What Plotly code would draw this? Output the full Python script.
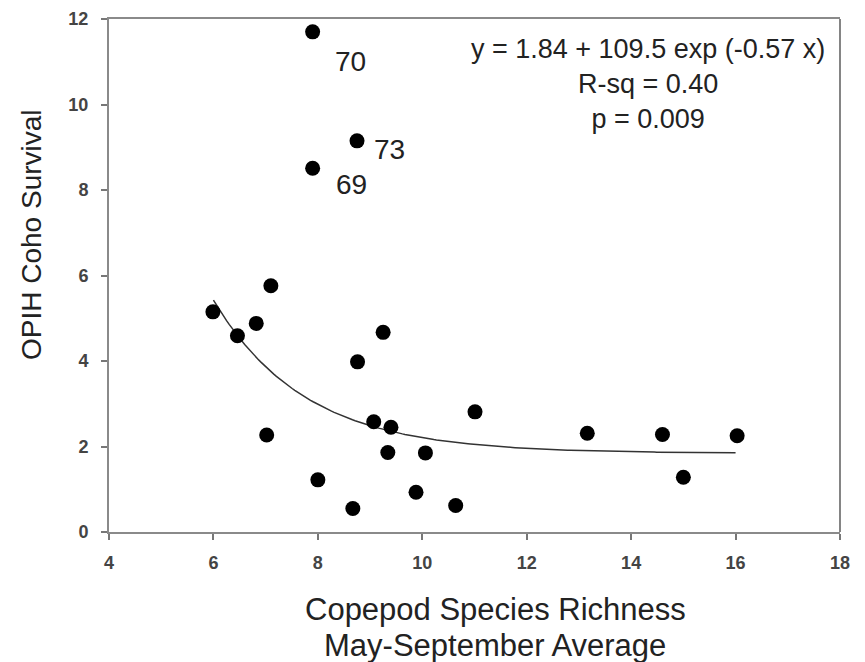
import numpy as np
import plotly.graph_objects as go

# Data
richness = [7.90, 8.75, 7.90, 7.10, 5.99, 6.46, 6.82, 8.76, 7.02, 8.00, 8.67,
            9.25, 9.07, 9.40, 9.34, 10.06, 9.88, 10.64, 11.01, 13.16, 14.60, 16.03, 15.00]
survival = [11.70, 9.15, 8.51, 5.76, 5.15, 4.59, 4.88, 3.98, 2.27, 1.22, 0.55,
            4.67, 2.58, 2.45, 1.86, 1.85, 0.93, 0.62, 2.81, 2.31, 2.28, 2.25, 1.28]

label_text = ["70", "73", "69"]
label_x = [8.63, 9.37, 8.65]
label_y = [11.0, 8.94, 8.12]

# Fitted model y = a + b exp(c x)
fit_a, fit_b, fit_c = 1.84, 109.5, -0.57
fit_x = np.linspace(6, 16, 200)
fit_y = fit_a + fit_b * np.exp(fit_c * fit_x)

x_ticks = [4, 6, 8, 10, 12, 14, 16, 18]
y_ticks = [0, 2, 4, 6, 8, 10, 12]

x_title_lines = ["Copepod Species Richness", "May-September Average"]
y_title = "OPIH Coho Survival"
stats_text = "y = 1.84 + 109.5 exp (-0.57 x)<br>R-sq = 0.40<br>p = 0.009"

font = "Liberation Sans, Arial, sans-serif"

# page has an 8px body margin
OFF = 8
W, H = 857, 654
L, R, T, B = 101, 25, 11, 130


def px2paper(px, py):
    return ((px - OFF - L) / (W - L - R), (H - B - (py - OFF)) / (H - T - B))


fig = go.Figure()
fig.add_trace(go.Scatter(x=fit_x, y=fit_y, mode="lines",
                         line=dict(color="#333333", width=1.5), hoverinfo="skip"))
fig.add_trace(go.Scatter(x=richness, y=survival, mode="markers",
                         marker=dict(color="black", size=15)))

for t, lx, ly in zip(label_text, label_x, label_y):
    fig.add_annotation(x=lx, y=ly, text=t, showarrow=False, xref="x", yref="y",
                       font=dict(size=28, color="#222222", family=font))

fig.add_annotation(x=17.76, y=11.7, xref="x", yref="y", yanchor="top", xanchor="right",
                   text=stats_text, showarrow=False, align="center",
                   font=dict(size=27, color="#222222", family=font))

# axis titles
ax, ay = px2paper(31, 235)
fig.add_annotation(x=ax, y=ay, xref="paper", yref="paper", text=y_title,
                   showarrow=False, textangle=-90, xanchor="center", yanchor="middle",
                   font=dict(size=28, color="#222222", family=font))
for line, py in zip(x_title_lines, [610, 645]):
    bx, by = px2paper(495, py)
    fig.add_annotation(x=bx, y=by, xref="paper", yref="paper", text=line,
                       showarrow=False, align="center", xanchor="center", yanchor="middle",
                       font=dict(size=31, color="#222222", family=font))

fig.add_shape(type="line", xref="paper", yref="paper", x0=1, x1=1, y0=0, y1=1,
              line=dict(color="#333333", width=1.2))

tickfont = dict(size=18, color="#444444", family=font, weight="bold")

fig.update_layout(
    width=W, height=H,
    margin=dict(l=L, r=R, t=T, b=B),
    paper_bgcolor="white", plot_bgcolor="white",
    showlegend=False,
    font=dict(family=font, color="#222222"),
    xaxis=dict(range=[4, 18], tickvals=x_ticks, showgrid=False, zeroline=False,
               showline=True, mirror=True, linecolor="#8a8a8a", linewidth=2,
               ticks="outside", ticklen=6, tickcolor="#777777", tickwidth=1.5,
               ticklabelstandoff=7, tickfont=tickfont, automargin=False),
    yaxis=dict(range=[0, 12], tickvals=y_ticks, showgrid=False, zeroline=False,
               showline=True, linecolor="#8a8a8a", linewidth=2,
               ticks="outside", ticklen=6, tickcolor="#777777", tickwidth=1.5,
               ticklabelstandoff=9, tickfont=tickfont, automargin=False),
)

fig.write_html("out.html")
